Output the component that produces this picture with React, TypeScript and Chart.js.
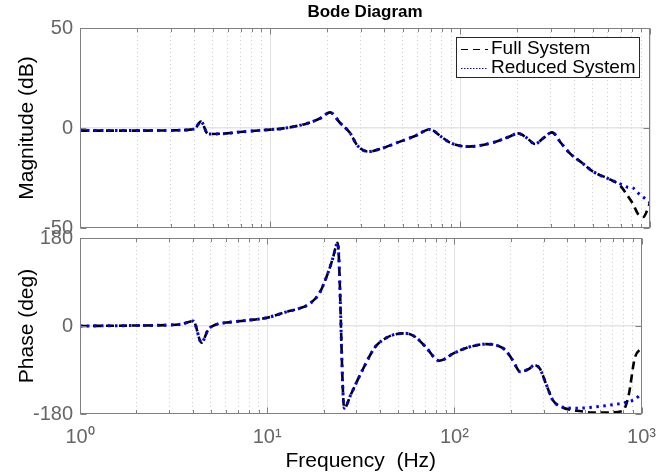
import React, { useEffect, useRef } from 'react';
import { Chart, registerables } from 'chart.js';

Chart.register(...registerables);

const FONT = '"Liberation Sans", Arial, Helvetica, sans-serif';
const TICK_COLOR = '#666666';
const FRAME_COLOR = '#808080';
const MAJOR_GRID = '#e2e2e2';
const MINOR_GRID = '#cfcfcf';
const ZERO_GRID = '#e4e4e4';

const chartTitle = 'Bode Diagram';
const seriesNames = ['Full System', 'Reduced System'];
const magAxisTitle = 'Magnitude (dB)';
const phaseAxisTitle = 'Phase (deg)';
const freqAxisTitle = 'Frequency  (Hz)';

const xTickValues = [
  1, 2, 3, 4, 5, 6, 7, 8, 9,
  10, 20, 30, 40, 50, 60, 70, 80, 90,
  100, 200, 300, 400, 500, 600, 700, 800, 900,
  1000,
];
const xTickLabels: Record<number, string> = { 1: '10⁰', 10: '10¹', 100: '10²', 1000: '10³' };
const magTicks = [-50, 0, 50];
const phaseTicks = [-180, 0, 180];

// Magnitude (dB) vs frequency (Hz)
const magFreq = [
  1, 2, 3, 4, 4.33, 4.72, 5.94, 6.95, 9.4, 11.7, 15.7, 18.5, 20.7, 23.4, 26.4,
  28.7, 32.8, 39.3, 48.3, 58, 69.5, 80, 88.5, 110, 149, 180, 202, 225, 248, 275,
  305, 340, 379, 440, 502, 615, 700, 757, 814, 865, 920, 1000,
];
const magFull = [
  -1.3, -1.3, -1.2, -0.5, 3.2, -3, -2.7, -2.0, -1.0, -0.2, 2.3, 5.0, 7.8, 2.5, -2.5,
  -8.5, -11.8, -10, -6.8, -4, -0.7, -4.5, -7.3, -9.3, -7.3, -4.5, -2.7, -5, -8, -5,
  -2.2, -7.5, -12.7, -17.5, -21.8, -25.7, -29, -33.5, -38, -43, -44.5, -37.5,
];
const magReduced = [
  -1.3, -1.3, -1.2, -0.5, 3.2, -3, -2.7, -2.0, -1.0, -0.2, 2.3, 5.0, 7.8, 2.5, -2.5,
  -8.5, -11.8, -10, -6.8, -4, -0.7, -4.5, -7.3, -9.3, -7.3, -4.5, -2.7, -5, -8, -5,
  -2.2, -7.5, -12.7, -17.5, -21.8, -25.7, -28, -29.5, -30, -32.5, -34.5, -37.3,
];

// Phase (deg) vs frequency (Hz)
const phaseFreq = [
  1, 2, 3, 3.5, 4.03, 4.46, 4.83, 5.25, 6.38, 8, 10, 12.7, 14.9, 16.9, 19, 21.1,
  22.4, 23.8, 25.8, 28, 32.3, 37.9, 43, 48.3, 54.6, 61.6, 70, 83, 100, 120, 149,
  170, 187, 205, 225, 250, 268, 286, 310, 335, 370, 427, 468, 545, 640, 790, 850,
  920, 1000,
];
const phaseFull = [
  0, 1, 2, 4, 10, -34, -8, 2, 8, 12, 17, 29, 36, 46, 67, 108,
  138, 170, -168, -140, -90, -42, -25, -17, -15, -22, -42, -71, -55, -43, -37,
  -40, -49, -70, -93.5, -88, -80, -87, -120, -151, -165, -172, -174, -177, -177, -174, -145,
  -66, -45,
];
const phaseReduced = [
  0, 1, 2, 4, 10, -34, -8, 2, 8, 12, 17, 29, 36, 46, 67, 108,
  138, 170, -168, -140, -90, -42, -25, -17, -15, -22, -42, -71, -55, -43, -37,
  -40, -49, -70, -93.5, -88, -80, -87, -120, -151, -165, -168, -168, -166, -163, -158, -155,
  -150, -138,
];

const isMajorX = (v: number) => xTickLabels[v] !== undefined;

function makeDatasets(freq: number[], full: number[], reduced: number[]) {
  return [
    {
      label: seriesNames[0],
      data: freq.map((f, i) => ({ x: f, y: full[i] })),
      borderColor: '#000000',
      backgroundColor: '#000000',
      borderDash: [8, 5],
      borderWidth: 2.6,
      pointRadius: 0,
      fill: false,
      cubicInterpolationMode: 'monotone',
      order: 1,
    },
    {
      label: seriesNames[1],
      data: freq.map((f, i) => ({ x: f, y: reduced[i] })),
      borderColor: '#0000ff',
      backgroundColor: '#0000ff',
      borderDash: [2.5, 4.5],
      borderWidth: 3,
      pointRadius: 0,
      fill: false,
      cubicInterpolationMode: 'monotone',
      order: 0,
    },
  ];
}

function xScale(showLabels: boolean, boxHeight: number, showTitle: boolean) {
  return {
    type: 'logarithmic',
    min: 1,
    max: 1000,
    afterBuildTicks: (s: any) => {
      s.ticks = xTickValues.map((v) => ({ value: v, major: false }));
    },
    afterFit: (s: any) => {
      s.height = boxHeight;
    },
    ticks: {
      display: showLabels,
      autoSkip: false,
      maxRotation: 0,
      minRotation: 0,
      padding: 11,
      color: TICK_COLOR,
      font: { family: FONT, size: 20 },
      callback: (v: any) => xTickLabels[Number(v)] ?? '',
    },
    grid: {
      drawTicks: false,
      lineWidth: 1,
      color: (ctx: any) => (ctx.tick && isMajorX(ctx.tick.value) ? MAJOR_GRID : MINOR_GRID),
    },
    border: {
      display: false,
      dash: (ctx: any) => (ctx.tick && isMajorX(ctx.tick.value) ? [] : [1, 3]),
    },
    title: {
      display: showTitle,
      text: freqAxisTitle,
      color: '#000000',
      font: { family: FONT, size: 21 },
      padding: { top: 0, bottom: 2 },
    },
  };
}

function yScale(min: number, max: number, tickVals: number[], title: string) {
  return {
    type: 'linear',
    min,
    max,
    afterBuildTicks: (s: any) => {
      s.ticks = tickVals.map((v) => ({ value: v }));
    },
    afterFit: (s: any) => {
      s.width = 80;
    },
    ticks: {
      color: TICK_COLOR,
      font: { family: FONT, size: 20 },
      padding: 7,
      callback: (v: any) => String(v),
    },
    grid: {
      drawTicks: false,
      lineWidth: 1.5,
      color: (ctx: any) => (ctx.tick && ctx.tick.value === 0 ? ZERO_GRID : 'rgba(0,0,0,0)'),
    },
    border: { display: false },
    title: {
      display: true,
      text: title,
      color: '#000000',
      font: { family: FONT, size: 21 },
      padding: { top: 15, bottom: 0 },
    },
  };
}

const framePlugin = {
  id: 'matlabFrame',
  afterDraw(chart: any) {
    const { ctx, chartArea: a, scales } = chart;
    const L = Math.round(a.left) + 0.5;
    const R = Math.round(a.right) - 0.5;
    const T = Math.round(a.top) + 0.5;
    const B = Math.round(a.bottom) - 0.5;
    ctx.save();
    ctx.strokeStyle = FRAME_COLOR;
    ctx.lineWidth = 1;
    ctx.setLineDash([]);
    ctx.strokeRect(L, T, R - L, B - T);
    ctx.beginPath();
    for (const t of scales.x.ticks) {
      const px = Math.round(scales.x.getPixelForValue(t.value)) + 0.5;
      const len = isMajorX(t.value) ? 6 : 3.5;
      ctx.moveTo(px, B);
      ctx.lineTo(px, B - len);
      ctx.moveTo(px, T);
      ctx.lineTo(px, T + len);
    }
    for (const t of scales.y.ticks) {
      const py = Math.round(scales.y.getPixelForValue(t.value)) + 0.5;
      ctx.moveTo(L, py);
      ctx.lineTo(L + 6, py);
      ctx.moveTo(R, py);
      ctx.lineTo(R - 6, py);
    }
    ctx.stroke();
    ctx.restore();
  },
};

const legendPlugin = {
  id: 'insideLegend',
  afterDraw(chart: any) {
    const { ctx, chartArea: a } = chart;
    const ds = chart.data.datasets;
    ctx.save();
    ctx.font = `19px ${FONT}`;
    const textW = Math.max(...ds.map((d: any) => ctx.measureText(d.label).width));
    const sampleLen = 27;
    const padL = 5;
    const gap = 3;
    const padR = 4;
    const rowH = 19;
    const w = padL + sampleLen + gap + textW + padR;
    const h = rowH * ds.length + 3;
    const right = Math.round(a.right) - 10;
    const top = Math.round(a.top) + 9;
    const left = Math.round(right - w);
    ctx.fillStyle = '#ffffff';
    ctx.fillRect(left, top, right - left, h);
    ctx.strokeStyle = '#262626';
    ctx.lineWidth = 1;
    ctx.strokeRect(left + 0.5, top + 0.5, right - left - 1, h - 1);
    ds.forEach((d: any, i: number) => {
      const cy = top + 2 + rowH * i + rowH / 2;
      ctx.beginPath();
      ctx.strokeStyle = d.borderColor;
      ctx.lineWidth = 1;
      ctx.setLineDash(i === 0 ? [7, 5] : [1.5, 1.5]);
      ctx.moveTo(left + padL, Math.round(cy) + 0.5);
      ctx.lineTo(left + padL + sampleLen, Math.round(cy) + 0.5);
      ctx.stroke();
      ctx.setLineDash([]);
      ctx.fillStyle = '#000000';
      ctx.textBaseline = 'middle';
      ctx.textAlign = 'left';
      ctx.fillText(d.label, left + padL + sampleLen + gap, cy);
    });
    ctx.restore();
  },
};

export default function App() {
  const magRef = useRef<HTMLCanvasElement>(null);
  const phRef = useRef<HTMLCanvasElement>(null);

  useEffect(() => {
    document.body.style.margin = '0';
    const magChart = new Chart(magRef.current as HTMLCanvasElement, {
      type: 'line',
      data: { datasets: makeDatasets(magFreq, magFull, magReduced) as any },
      options: {
        responsive: false,
        animation: false,
        devicePixelRatio: 1,
        events: [],
        layout: { padding: { left: 0, right: 17, top: 0, bottom: 0 } },
        plugins: {
          legend: { display: false },
          tooltip: { enabled: false },
          title: {
            display: true,
            text: chartTitle,
            fullSize: false,
            color: '#000000',
            font: { family: FONT, size: 17, weight: 'bold' },
            padding: { top: 2, bottom: 5.6 },
          },
        },
        scales: {
          x: xScale(false, 32, false) as any,
          y: yScale(-50, 50, magTicks, magAxisTitle) as any,
        },
      },
      plugins: [framePlugin, legendPlugin],
    });
    const phaseChart = new Chart(phRef.current as HTMLCanvasElement, {
      type: 'line',
      data: { datasets: makeDatasets(phaseFreq, phaseFull, phaseReduced) as any },
      options: {
        responsive: false,
        animation: false,
        devicePixelRatio: 1,
        events: [],
        layout: { padding: { left: 0, right: 17, top: 24, bottom: 0 } },
        plugins: {
          legend: { display: false },
          tooltip: { enabled: false },
          title: { display: false },
        },
        scales: {
          x: xScale(true, 62, true) as any,
          y: yScale(-180, 180, phaseTicks, phaseAxisTitle) as any,
        },
      },
      plugins: [framePlugin],
    });
    return () => {
      magChart.destroy();
      phaseChart.destroy();
    };
  }, []);

  return (
    <div style={{ position: 'relative', width: 667, height: 476, background: '#ffffff', overflow: 'hidden' }}>
      <canvas
        ref={magRef}
        width={667}
        height={260}
        style={{ position: 'absolute', left: 0, top: 0, width: 667, height: 260 }}
      />
      <canvas
        ref={phRef}
        width={667}
        height={262}
        style={{ position: 'absolute', left: 0, top: 214, width: 667, height: 262 }}
      />
    </div>
  );
}
